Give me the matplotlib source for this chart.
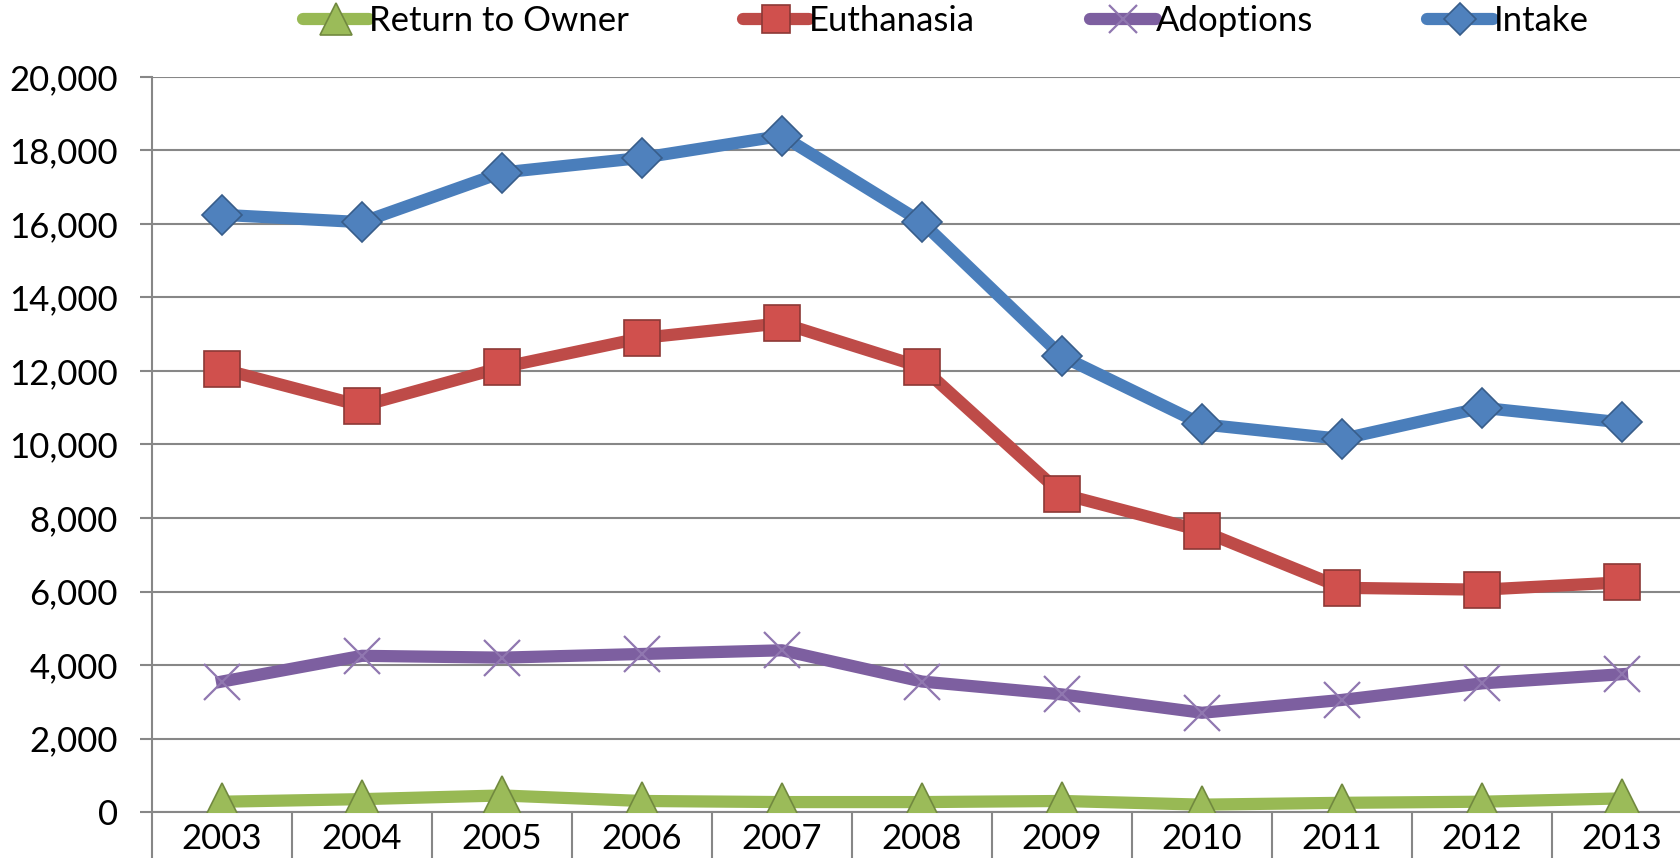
import matplotlib.pyplot as plt
from matplotlib.ticker import FuncFormatter, MultipleLocator

plt.rcParams['font.family'] = ['Lato', 'DejaVu Sans']

# Data
years = ['2003', '2004', '2005', '2006', '2007', '2008', '2009', '2010', '2011', '2012', '2013']
intake = [16250, 16050, 17400, 17800, 18400, 16050, 12400, 10550, 10150, 11000, 10600]
euthanasia = [12050, 11050, 12100, 12900, 13300, 12100, 8650, 7650, 6100, 6050, 6250]
adoptions = [3550, 4250, 4200, 4300, 4400, 3550, 3200, 2700, 3050, 3500, 3750]
return_to_owner = [280, 350, 450, 300, 270, 270, 300, 200, 250, 280, 370]

x = list(range(len(years)))

fig = plt.figure(figsize=(16.8, 8.58), dpi=100)
ax = fig.add_axes([152 / 1680, 46 / 858, 1540 / 1680, 735 / 858])

grid_col = '#878787'
lw = 8.8
fs = 25

l_rto, = ax.plot(x, return_to_owner, color='#98B954', lw=lw, marker='^', ms=28,
                 markerfacecolor='#9BBB59', markeredgecolor='#71893F', markeredgewidth=1.2,
                 label='Return to Owner', zorder=3)
l_eu, = ax.plot(x, euthanasia, color='#BE4B48', lw=lw, marker='s', ms=26,
                markerfacecolor='#D0504D', markeredgecolor='#8C3836', markeredgewidth=1.2,
                label='Euthanasia', zorder=3)
l_ad, = ax.plot(x, adoptions, color='#7D5FA0', lw=lw, marker='x', ms=26,
                markeredgecolor='#9077B0', markeredgewidth=1.6,
                label='Adoptions', zorder=3)
l_in, = ax.plot(x, intake, color='#4A7EBB', lw=lw, marker='D', ms=20,
                markerfacecolor='#4F81BD', markeredgecolor='#385D8A', markeredgewidth=1.2,
                label='Intake', zorder=3)

ax.set_xlim(-0.5, 10.5)
ax.set_ylim(0, 20000)
ax.yaxis.set_major_locator(MultipleLocator(2000))
ax.yaxis.set_major_formatter(FuncFormatter(lambda v, p: f'{int(v):,}'))
ax.grid(axis='y', color=grid_col, lw=1.5, zorder=0)

ax.set_xticks(x)
ax.set_xticklabels(years)
ax.set_xticks([i - 0.5 for i in range(len(years) + 1)], minor=True)
ax.tick_params(axis='x', which='major', length=0, pad=8, labelsize=fs)
ax.tick_params(axis='x', which='minor', length=34, width=1.5, color=grid_col, direction='out')
ax.tick_params(axis='y', length=8.6, width=1.5, color=grid_col, pad=16, labelsize=fs)

for s in ['top', 'right']:
    ax.spines[s].set_visible(False)
for s in ['left', 'bottom']:
    ax.spines[s].set_color(grid_col)
    ax.spines[s].set_linewidth(1.5)

leg = fig.legend(handles=[l_rto, l_eu, l_ad, l_in], loc='center', ncol=4,
                 bbox_to_anchor=(0.5628, 0.975), frameon=False, fontsize=fs,
                 handlelength=1.9, handletextpad=0.0, columnspacing=3.3,
                 borderpad=0, markerscale=0.8)
for h in leg.get_lines():
    h.set_solid_capstyle('round')

fig.savefig('out.png', dpi=100)
